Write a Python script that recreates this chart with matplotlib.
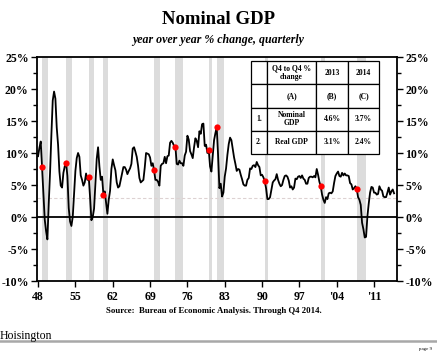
import matplotlib
matplotlib.use("Agg")
import matplotlib.pyplot as plt
import numpy as np

plt.rcParams['font.family'] = ['Liberation Serif', 'DejaVu Serif']

# ---- data: nominal GDP, year over year % change, quarterly 1948Q1..2014Q4
start_year = 1948
yoy = [
    9.5, 10.8, 11.8, 7.8,      # 1948
    3.5, -0.4, -2.2, -3.5,     # 1949
    2.1, 7.0, 12.9, 18.2,      # 1950
    19.6, 18.5, 14.0, 11.3,    # 1951
    7.1, 4.9, 4.6, 6.9,        # 1952
    7.9, 8.5, 6.4, 1.4,        # 1953
    -0.7, -1.4, 0.0, 3.6,      # 1954
    7.2, 9.2, 10.0, 9.4,       # 1955
    6.5, 5.8, 4.9, 5.4,        # 1956
    6.8, 5.8, 6.3, 3.1,        # 1957
    -0.5, 0.0, 1.3, 5.2,       # 1958
    9.1, 10.9, 7.9, 5.8,       # 1959
    6.3, 3.5, 4.0, 2.2,        # 1960
    0.5, 2.7, 4.1, 7.5,        # 1961
    9.0, 8.1, 7.3, 5.4,        # 1962
    4.6, 4.8, 5.8, 6.8,        # 1963
    7.8, 7.8, 7.4, 6.7,        # 1964
    7.2, 7.6, 8.3, 10.7,       # 1965
    10.9, 10.2, 9.4, 8.0,      # 1966
    6.1, 5.4, 5.6, 5.8,        # 1967
    7.7, 10.0, 9.9, 9.8,       # 1968
    9.3, 8.0, 8.4, 7.3,        # 1969
    5.8, 5.8, 5.5, 4.9,        # 1970
    8.0, 8.3, 8.4, 9.4,        # 1971
    8.4, 9.5, 9.6, 11.6,       # 1972
    11.9, 11.6, 11.1, 11.0,    # 1973
    8.3, 8.2, 8.8, 8.4,        # 1974
    8.4, 8.0, 9.6, 10.2,       # 1975
    12.7, 12.1, 10.3, 9.8,     # 1976
    9.2, 10.9, 12.3, 11.9,     # 1977
    10.9, 13.4, 13.0, 14.5,    # 1978
    14.6, 11.1, 11.3, 10.0,    # 1979
    10.5, 7.9, 7.1, 9.6,       # 1980
    12.0, 13.1, 14.0, 9.7,     # 1981
    4.5, 5.2, 3.2, 3.8,        # 1982
    6.3, 7.6, 9.7, 11.4,       # 1983
    12.4, 12.0, 10.7, 9.3,     # 1984
    8.3, 7.2, 7.5, 7.4,        # 1985
    6.6, 5.9, 5.1, 4.9,        # 1986
    4.9, 5.8, 6.1, 7.6,        # 1987
    7.5, 8.0, 8.1, 7.8,        # 1988
    8.6, 8.1, 7.8, 6.5,        # 1989
    6.6, 6.2, 5.6, 4.5,        # 1990
    2.8, 2.8, 3.1, 4.3,        # 1991
    5.4, 5.7, 5.9, 6.7,        # 1992
    5.8, 5.2, 4.8, 5.0,        # 1993
    5.8, 6.4, 6.5, 6.3,        # 1994
    5.7, 4.6, 4.8, 4.3,        # 1995
    4.6, 6.0, 5.9, 6.3,        # 1996
    6.4, 6.1, 6.5, 6.0,        # 1997
    5.8, 5.2, 5.2, 6.1,        # 1998
    6.3, 6.3, 6.2, 6.4,        # 1999
    6.2, 7.5, 6.6, 5.5,        # 2000
    4.8, 3.5, 2.7, 2.2,        # 2001
    3.1, 2.8, 3.7, 3.8,        # 2002
    3.7, 4.0, 5.3, 6.4,        # 2003
    6.8, 7.1, 6.4, 6.3,        # 2004
    6.9, 6.5, 6.8, 6.5,        # 2005
    6.5, 6.4, 5.3, 5.1,        # 2006
    4.3, 4.5, 4.8, 4.4,        # 2007
    3.1, 2.7, 1.9, -0.9,       # 2008
    -1.9, -3.2, -3.1, 0.1,     # 2009
    2.1, 3.8, 4.7, 4.6,        # 2010
    3.8, 3.8, 3.5, 3.6,        # 2011
    4.8, 4.3, 4.1, 3.2,        # 2012
    3.1, 3.1, 3.8, 4.6,        # 2013
    3.5, 4.0, 4.3, 3.7,        # 2014
]

# business-cycle peak quarters (red dots)
peak_quarters = ["1948Q4", "1953Q2", "1957Q3", "1960Q2", "1969Q4", "1973Q4",
                 "1980Q1", "1981Q3", "1990Q3", "2001Q1", "2007Q4"]

# recession shading (start, end) in decimal years
recessions = [(1948.75, 1949.9), (1953.25, 1954.35), (1957.5, 1958.4),
              (1960.25, 1961.1), (1969.75, 1970.85), (1973.75, 1975.15),
              (1980.0, 1980.6), (1981.5, 1982.85), (1990.5, 1991.15),
              (2001.0, 2001.85), (2007.75, 2009.4)]

avg_line = 3.0

x_ticks = [1948, 1955, 1962, 1969, 1976, 1983, 1990, 1997, 2004, 2011]
x_labels = ["48", "55", "62", "69", "76", "83", "90", "97", "'04", "'11"]
y_ticks = [-10, -5, 0, 5, 10, 15, 20, 25]
y_labels = ["-10%", "-5%", "0%", "5%", "10%", "15%", "20%", "25%"]

table_cells = [["", "Q4 to Q4 %\nchange", "2013", "2014"],
               ["", "(A)", "(B)", "(C)"],
               ["1.", "Nominal\nGDP", "4.6%", "3.7%"],
               ["2.", "Real GDP", "3.1%", "2.4%"]]

# ---- figure
fig = plt.figure(figsize=(4.37, 3.56), dpi=100)
ax = fig.add_axes([37/437, 1-281/356, 360/437, 224/356])

xq = np.array([start_year + i/4 for i in range(len(yoy))])
yv = np.array(yoy)

for s, e in recessions:
    ax.axvspan(s, e, color='#dcdcdc', lw=0, zorder=0)

ax.axhline(avg_line, color='#ddd2d2', lw=0.8, ls=(0, (3, 2)), zorder=1)
ax.axhline(0, color='black', lw=1.3, zorder=2)
ax.plot(xq, yv, color='black', lw=1.3, zorder=3)

def qpos(s):
    y, q = int(s[:4]), int(s[-1])
    return (y - start_year)*4 + (q - 1)

idx = [qpos(s) for s in peak_quarters]
ax.plot(xq[idx], yv[idx], 'o', color='#ff0000', ms=4.5, mec='none', zorder=4)

ax.set_xlim(1947.8, 2015.3)
ax.set_ylim(-10, 25)

tick_font = dict(fontsize=8.5, fontweight='bold')
ax.set_xticks(x_ticks)
ax.set_xticklabels(x_labels, **tick_font)
ax.set_yticks(y_ticks)
ax.set_yticklabels(y_labels, **tick_font)
ax.set_yticks(np.arange(-7.5, 25, 5), minor=True)
ax.tick_params(axis='x', which='major', direction='out', length=4, width=1, pad=3)
ax.tick_params(axis='y', which='both', direction='out', left=True, right=True,
               labelleft=True, labelright=True, width=1, pad=2)
ax.tick_params(axis='y', which='major', length=4)
ax.tick_params(axis='y', which='minor', length=3)
for sp in ax.spines.values():
    sp.set_linewidth(1.3)

# table
x0 = (250.7-37)/360; x1 = (379-37)/360
y0 = (281-154)/224; y1 = (281-61)/224
cw = np.array([16.6, 48.7, 32, 31]); cw = cw/cw.sum()
tb = ax.table(cellText=table_cells, colWidths=list(cw),
              bbox=[x0, y0, x1-x0, y1-y0], cellLoc='center', zorder=10)
tb.auto_set_font_size(False)
for (r, c), cell in tb.get_celld().items():
    cell.set_facecolor('white')
    cell.set_edgecolor('black')
    cell.set_linewidth(0.9)
    cell.get_text().set_fontsize(5.5)
    cell.get_text().set_fontweight('bold')
    cell.get_text().set_linespacing(1.0)

# titles and notes
fig.text(0.5, 1-20/356, "Nominal GDP", ha='center', va='center',
         fontsize=13.5, fontweight='bold')
fig.text(0.5, 1-40/356, "year over year % change, quarterly", ha='center',
         va='center', fontsize=8.6, fontweight='bold', style='italic')
fig.text(214/437, 1-311/356, "Source:  Bureau of Economic Analysis. Through Q4 2014.",
         ha='center', va='center', fontsize=6.3, fontweight='bold')
fig.text(0/437, 1-336/356, "Hoisington", ha='left', va='center', fontsize=8.5)
fig.add_artist(plt.Line2D([0, 1], [1-340.5/356, 1-340.5/356],
                          transform=fig.transFigure, color='#a8a8a8', lw=1.8))
fig.text(432/437, 1-349/356, "page 9", ha='right', va='center', fontsize=3.5)

fig.savefig("out.png", dpi=100)
